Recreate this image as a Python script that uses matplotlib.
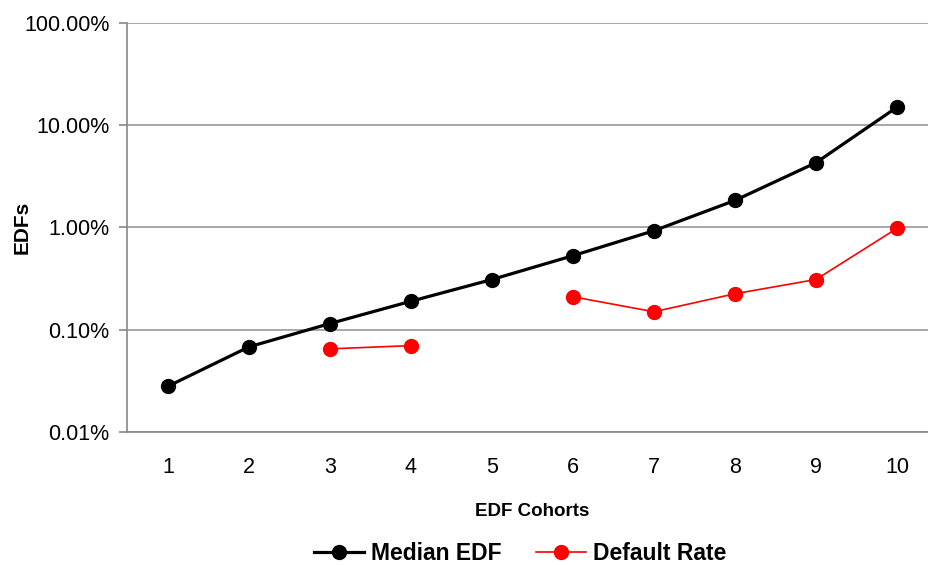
import matplotlib.pyplot as plt
import numpy as np
from matplotlib.ticker import FixedLocator, FuncFormatter, NullLocator

plt.rcParams['font.family'] = ['Liberation Sans', 'DejaVu Sans']

cohorts = [1, 2, 3, 4, 5, 6, 7, 8, 9, 10]
# valores em percentual
median_edf = [0.028, 0.068, 0.115, 0.19, 0.31, 0.53, 0.93, 1.84, 4.3, 15.0]
default_rate = [np.nan, np.nan, 0.065, 0.07, np.nan, 0.21, 0.15, 0.225, 0.31, 0.98]

y_ticks = [0.0001, 0.001, 0.01, 0.1, 1.0]

fig = plt.figure(figsize=(9.29, 5.65), dpi=100)
ax = fig.add_axes([0.1372, 0.2354, 0.8719, 0.7239])

grid_color = '#9a9a9a'

ax.plot(cohorts, np.array(median_edf) / 100, color='black', linewidth=2.3,
        marker='o', markersize=10, label='Median EDF', zorder=3, clip_on=False)
ax.plot(cohorts, np.array(default_rate) / 100, color='#ff0000', linewidth=1.2,
        marker='o', markersize=10, label='Default Rate', zorder=3, clip_on=False)

ax.set_yscale('log')
ax.set_ylim(1e-4, 1)
ax.set_xlim(0.5, 10.5)

ax.yaxis.set_major_locator(FixedLocator(y_ticks))
ax.yaxis.set_minor_locator(NullLocator())
ax.yaxis.set_major_formatter(FuncFormatter(lambda v, p: f'{v * 100:.2f}%'))
ax.set_xticks(cohorts)
ax.set_xticklabels([str(c) for c in cohorts])

ax.grid(axis='y', color=grid_color, linewidth=1.2)
ax.set_axisbelow(True)

for s in ['top', 'right']:
    ax.spines[s].set_visible(False)
for s in ['left', 'bottom']:
    ax.spines[s].set_color('#888888')
    ax.spines[s].set_linewidth(1.2)

ax.tick_params(axis='y', length=6, color='#888888', width=1.2, pad=7, labelsize=15.5)
ax.tick_params(axis='x', length=0, pad=18, labelsize=15.5)

ax.set_ylabel('EDFs', fontsize=15, fontweight='bold')
ax.yaxis.set_label_coords(-0.118, 0.5)
ax.set_xlabel('EDF Cohorts', fontsize=13.5, fontweight='bold', labelpad=18)

fig.legend(loc='center', bbox_to_anchor=(520 / 929, 1 - 554 / 565), ncol=2,
           frameon=False, prop={'size': 16.5, 'weight': 'bold'},
           handlelength=2.2, columnspacing=1.5, handletextpad=0.3)

fig.savefig('out.png', dpi=100)
